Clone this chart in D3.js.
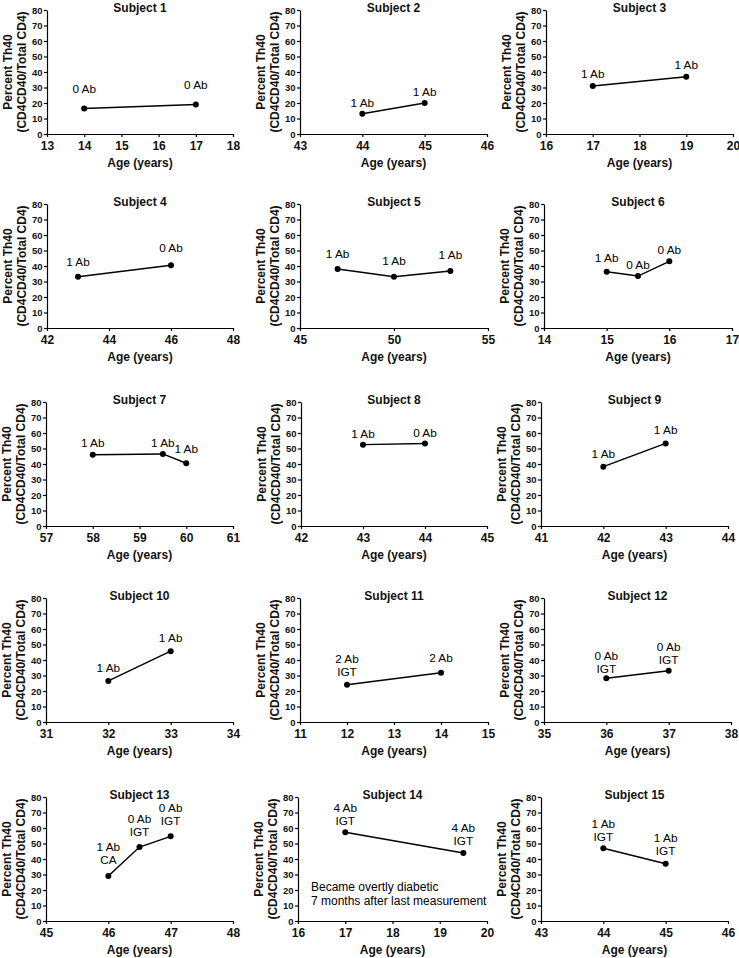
<!DOCTYPE html>
<meta charset="utf-8">
<style>
  body { margin: 0; background: #fff; }
  svg { font-family: "Liberation Sans", Arial, sans-serif; }
  .axis path, .axis line { stroke: #000; stroke-width: 1.2; }
  .axis text { fill: #111; font-weight: bold; }
  .x.axis text { font-size: 12px; }
  .y.axis text { font-size: 9.5px; }
  .title, .atitle { font-weight: bold; fill: #111; }
  .title { font-size: 12px; }
  .atitle { font-size: 12px; }
  .plabel { font-size: 11.8px; fill: #000; }
  .note { font-size: 12px; fill: #000; }
</style>
<script src="https://d3js.org/d3.v7.min.js"></script>
<svg width="739" height="958"></svg>
<script>

  // ---- data ----
  var subjects = ["Subject 1", "Subject 2", "Subject 3", "Subject 4", "Subject 5",
    "Subject 6", "Subject 7", "Subject 8", "Subject 9", "Subject 10",
    "Subject 11", "Subject 12", "Subject 13", "Subject 14", "Subject 15"];

  var ages = [
    [14, 17], [44, 45], [17, 19],
    [43, 46], [47, 50, 53], [15, 15.5, 16],
    [58, 59.5, 60], [43, 44], [42, 43],
    [32, 33], [12, 14], [36, 37],
    [46, 46.5, 47], [17, 19.5], [44, 45]
  ];

  var th40 = [
    [16.5, 19], [13, 20], [31, 37],
    [33, 40.5], [38, 33, 36.8], [36.3, 33.5, 43],
    [46, 46.5, 40.5], [52.5, 53.3], [38.3, 53.3],
    [26.5, 45.7], [24, 31.8], [28.2, 33],
    [29, 47.7, 54.6], [57.2, 43.8], [47, 37]
  ];

  // antibody / glucose status shown above each point
  var abStatus = [
    [["0 Ab"], ["0 Ab"]], [["1 Ab"], ["1 Ab"]], [["1 Ab"], ["1 Ab"]],
    [["1 Ab"], ["0 Ab"]], [["1 Ab"], ["1 Ab"], ["1 Ab"]], [["1 Ab"], ["0 Ab"], ["0 Ab"]],
    [["1 Ab"], ["1 Ab"], ["1 Ab"]], [["1 Ab"], ["0 Ab"]], [["1 Ab"], ["1 Ab"]],
    [["1 Ab"], ["1 Ab"]], [["2 Ab", "IGT"], ["2 Ab"]], [["0 Ab", "IGT"], ["0 Ab", "IGT"]],
    [["1 Ab", "CA"], ["0 Ab", "IGT"], ["0 Ab", "IGT"]], [["4 Ab", "IGT"], ["4 Ab", "IGT"]], [["1 Ab", "IGT"], ["1 Ab", "IGT"]]
  ];

  var xTicks = [
    [13, 14, 15, 16, 17, 18], [43, 44, 45, 46], [16, 17, 18, 19, 20],
    [42, 44, 46, 48], [45, 50, 55], [14, 15, 16, 17],
    [57, 58, 59, 60, 61], [42, 43, 44, 45], [41, 42, 43, 44],
    [31, 32, 33, 34], [11, 12, 13, 14, 15], [35, 36, 37, 38],
    [45, 46, 47, 48], [16, 17, 18, 19, 20], [43, 44, 45, 46]
  ];

  var yTicks = [0, 10, 20, 30, 40, 50, 60, 70, 80];

  var notes = { 13: ["Became overtly diabetic", "7 months after last measurement"] };

  // ---- layout ----
  var rowTops = [10, 204, 402, 598, 797],
      plotH = 124;
  var colSpans = [
    [[47, 233], [300, 487], [546, 733]],
    [[47, 233], [300, 488], [544, 732]],
    [[46, 233], [301, 487], [541, 728]],
    [[46, 233], [300, 488], [544, 731]],
    [[46, 233], [298, 487], [541, 728]]
  ];
  // how far each label sits above its point (px)
  var labelLift = [
    [19, 20], [11, 11], [12, 12],
    [15, 17], [15, 16, 16], [14, 11, 11],
    [12, 11, 14], [11, 10], [13, 13],
    [13, 13], [13, 15], [9, 11],
    [16, 15, 15], [11, 12], [11, 13]
  ];

  var svg = d3.select("svg");

  subjects.forEach(function(name, i) {
    var r = Math.floor(i / 3), c = i % 3;
    var span = colSpans[r][c], top = rowTops[r], bottom = top + plotH;

    var x = d3.scaleLinear().domain(d3.extent(xTicks[i])).range(span);
    var y = d3.scaleLinear().domain([0, 80]).range([bottom, top]);

    var g = svg.append("g");

    g.append("g")
      .attr("class", "x axis")
      .attr("transform", "translate(0," + bottom + ")")
      .call(d3.axisBottom(x).tickValues(xTicks[i]).tickSize(3).tickSizeOuter(0)
        .tickPadding(4).tickFormat(d3.format("d")));

    g.append("g")
      .attr("class", "y axis")
      .attr("transform", "translate(" + span[0] + ",0)")
      .call(d3.axisLeft(y).tickValues(yTicks).tickSize(3).tickSizeOuter(0).tickPadding(1.5));

    var cx = (span[0] + span[1]) / 2, cy = (top + bottom) / 2;

    g.append("text").attr("class", "title")
      .attr("x", cx).attr("y", top + 2)
      .attr("text-anchor", "middle").text(name);

    g.append("text").attr("class", "atitle")
      .attr("x", cx).attr("y", bottom + 33)
      .attr("text-anchor", "middle").text("Age (years)");

    ["Percent Th40", "(CD4CD40/Total CD4)"].forEach(function(t, k) {
      g.append("text").attr("class", "atitle")
        .attr("transform", "translate(" + (span[0] - 35 + k * 14) + "," + cy + ") rotate(-90)")
        .attr("text-anchor", "middle").text(t);
    });

    var pts = ages[i].map(function(a, j) {
      return { a: a, v: th40[i][j], s: abStatus[i][j], lift: labelLift[i][j] };
    });

    g.append("path")
      .datum(pts)
      .attr("fill", "none").attr("stroke", "#000").attr("stroke-width", 1.5)
      .attr("d", d3.line().x(function(d) { return x(d.a); }).y(function(d) { return y(d.v); }));

    g.selectAll("circle").data(pts).enter().append("circle")
      .attr("cx", function(d) { return x(d.a); })
      .attr("cy", function(d) { return y(d.v); })
      .attr("r", 3).attr("fill", "#000");

    pts.forEach(function(d) {
      var n = d.s.length;
      d.s.forEach(function(line, k) {
        g.append("text").attr("class", "plabel")
          .attr("x", x(d.a))
          .attr("y", y(d.v) - d.lift + 4 - (n - 1 - k) * 13)
          .attr("text-anchor", "middle").text(line);
      });
    });

    if (notes[i]) {
      notes[i].forEach(function(t, k) {
        g.append("text").attr("class", "note")
          .attr("x", span[0] + 13).attr("y", y(23) + 6 + k * 14)
          .text(t);
      });
    }
  });

</script>
